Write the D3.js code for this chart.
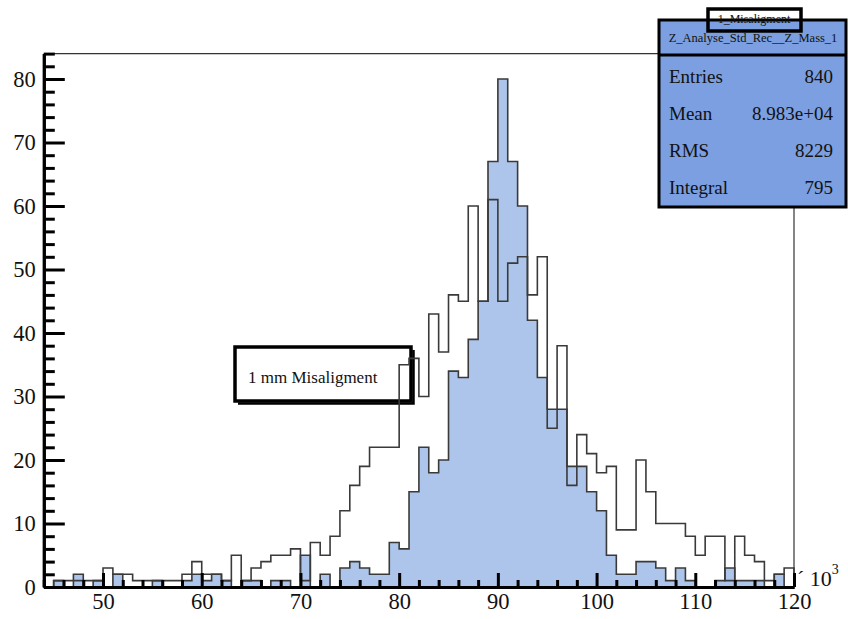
<!DOCTYPE html>
<html>
<head>
<meta charset="utf-8">
<script src="https://cdn.jsdelivr.net/npm/d3@7"></script>
<style>
  body { margin: 0; background: #ffffff; }
  svg { display: block; }
  text { font-family: "Liberation Serif", "DejaVu Serif", serif; fill: #111; }
</style>
</head>
<body>
<svg id="chart" width="848" height="619"></svg>
<script>
// Reconstructed Z mass, in units of 10^3, 1-unit bins starting at 44
const binStart = 44;
const binEnd = 120;

// aligned detector (filled histogram)
const alignedCounts = [
  0, 1, 0, 2, 0, 1, 0, 2, 0, 0,
  0, 1, 0, 0, 1, 2, 1, 2, 1, 0,
  1, 1, 0, 1, 1, 0, 5, 0, 2, 0,
  3, 4, 3, 2, 2, 7, 6, 15, 22, 18,
  20, 34, 33, 39, 45, 67, 80, 67, 60, 42,
  33, 28, 28, 19, 19, 15, 12, 5, 2, 2,
  4, 4, 3, 1, 3, 1, 0, 0, 1, 3,
  1, 1, 1, 0, 2, 0
];

// 1 mm misalignment (outline histogram)
const misalignedCounts = [
  0, 1, 1, 1, 1, 1, 3, 2, 2, 1,
  1, 1, 1, 1, 2, 4, 2, 2, 1, 5,
  1, 3, 4, 5, 5, 6, 1, 7, 5, 8,
  12, 16, 19, 22, 22, 22, 35, 36, 30, 43,
  37, 46, 45, 60, 45, 61, 45, 51, 52, 46,
  52, 25, 38, 16, 24, 21, 18, 19, 9, 9,
  20, 15, 10, 10, 10, 8, 5, 8, 8, 1,
  8, 5, 4, 1, 2, 3
];

const xMajorTicks = [50, 60, 70, 80, 90, 100, 110, 120];
const yMajorTicks = [0, 10, 20, 30, 40, 50, 60, 70, 80];
const statsTitle = "Z_Analyse_Std_Rec__Z_Mass_1";
const statsLabels = ["Entries", "Mean", "RMS", "Integral"];
const statsValues = ["840", "8.983e+04", "8229", "795"];
const histTitle = "1_Misaligment";
const legendText = "1 mm Misaligment";

const svg = d3.select("#chart");

const x = d3.scaleLinear().domain([binStart, binEnd]).range([43.8, 794]);
const y = d3.scaleLinear().domain([0, 84]).range([587, 53.6]);

const xMinorTicks = d3.range(binStart, binEnd + 0.1, 2).filter(v => v % 10 !== 0);
const yMinorTicks = d3.range(0, 84.1, 2).filter(v => v % 10 !== 0);

// step outline of a histogram, closed down to the baseline at both ends
function stepPoints(counts) {
  const pts = [[binStart, 0]];
  counts.forEach((c, i) => {
    pts.push([binStart + i, c]);
    pts.push([binStart + i + 1, c]);
  });
  pts.push([binEnd, 0]);
  return pts;
}
const line = d3.line().x(d => x(d[0])).y(d => y(d[1]));

// frame: top and right edges
svg.append("line")
  .attr("x1", x(binStart)).attr("x2", x(binEnd))
  .attr("y1", y(84)).attr("y2", y(84))
  .attr("stroke", "#333").attr("stroke-width", 1.2);
svg.append("line")
  .attr("x1", x(binEnd)).attr("x2", x(binEnd))
  .attr("y1", y(84)).attr("y2", y(0))
  .attr("stroke", "#333").attr("stroke-width", 1.2);

// legend box (drawn under the histograms)
const legend = svg.append("g");
legend.append("rect")
  .attr("x", 235).attr("y", 347).attr("width", 176).attr("height", 54)
  .attr("fill", "#fff");
legend.append("text")
  .attr("x", 248).attr("y", 383)
  .attr("font-size", 17)
  .text(legendText);

// filled histogram
svg.append("path")
  .attr("d", line(stepPoints(alignedCounts)) + "Z")
  .attr("fill", "#adc5ea")
  .attr("stroke", "#3a3a3a")
  .attr("stroke-width", 1.6);

// outline histogram
svg.append("path")
  .attr("d", line(stepPoints(misalignedCounts)))
  .attr("fill", "none")
  .attr("stroke", "#3a3a3a")
  .attr("stroke-width", 1.6);

// legend border on top
legend.append("rect")
  .attr("x", 235).attr("y", 347).attr("width", 176).attr("height", 54)
  .attr("fill", "none").attr("stroke", "#000").attr("stroke-width", 3.5);
legend.append("path")
  .attr("d", "M238,403.5H413.5V350")
  .attr("fill", "none").attr("stroke", "#000").attr("stroke-width", 2.5);

// axes
function styleAxis(g, width) {
  g.selectAll(".domain").attr("stroke", "#000").attr("stroke-width", 3);
  g.selectAll(".tick line").attr("stroke", "#000").attr("stroke-width", width);
}
const labelFont = "Liberation Serif, DejaVu Serif, serif";

const xMinor = svg.append("g").attr("transform", `translate(0,${y(0)})`)
  .call(d3.axisBottom(x).tickValues(xMinorTicks).tickSize(-7).tickSizeOuter(0).tickFormat(""));
styleAxis(xMinor, 3);
const xMajor = svg.append("g").attr("transform", `translate(0,${y(0)})`)
  .call(d3.axisBottom(x).tickValues(xMajorTicks).tickSize(-14).tickSizeOuter(0).tickPadding(6));
styleAxis(xMajor, 3);
xMajor.attr("font-family", labelFont);
xMajor.selectAll(".tick text").attr("font-size", 22.5).attr("fill", "#111");

const yMinor = svg.append("g").attr("transform", `translate(${x(binStart)},0)`)
  .call(d3.axisLeft(y).tickValues(yMinorTicks).tickSize(-11).tickSizeOuter(0).tickFormat(""));
styleAxis(yMinor, 3);
const yMajor = svg.append("g").attr("transform", `translate(${x(binStart)},0)`)
  .call(d3.axisLeft(y).tickValues(yMajorTicks).tickSize(-21).tickSizeOuter(0).tickPadding(8));
styleAxis(yMajor, 3);
yMajor.attr("font-family", labelFont);
yMajor.selectAll(".tick text").attr("font-size", 22.5).attr("fill", "#111");

// axis multiplier
const mult = svg.append("text").attr("x", 797).attr("y", 586).attr("font-size", 22);
mult.append("tspan").text("\u00b4 10");
mult.append("tspan").attr("dy", -12).attr("font-size", 14).text("3");

// statistics box
const stats = svg.append("g");
stats.append("rect")
  .attr("x", 659).attr("y", 20).attr("width", 187).attr("height", 187)
  .attr("fill", "#7b9fe0").attr("stroke", "#000").attr("stroke-width", 3);
stats.append("line")
  .attr("x1", 659).attr("x2", 846).attr("y1", 55).attr("y2", 55)
  .attr("stroke", "#000").attr("stroke-width", 3);
stats.append("text")
  .attr("x", 753).attr("y", 42).attr("text-anchor", "middle")
  .attr("font-size", 12.5)
  .text(statsTitle);
statsLabels.forEach((lab, i) => {
  const yy = 83 + i * 37;
  stats.append("text").attr("x", 669).attr("y", yy).attr("font-size", 19).text(lab);
  stats.append("text").attr("x", 833).attr("y", yy).attr("font-size", 19)
    .attr("text-anchor", "end").text(statsValues[i]);
});

// histogram title box
svg.append("rect")
  .attr("x", 708).attr("y", 9).attr("width", 93).attr("height", 22)
  .attr("fill", "none").attr("stroke", "#000").attr("stroke-width", 3.5);
svg.append("text")
  .attr("x", 754).attr("y", 23).attr("text-anchor", "middle")
  .attr("font-size", 12).text(histTitle);
</script>
</body>
</html>
